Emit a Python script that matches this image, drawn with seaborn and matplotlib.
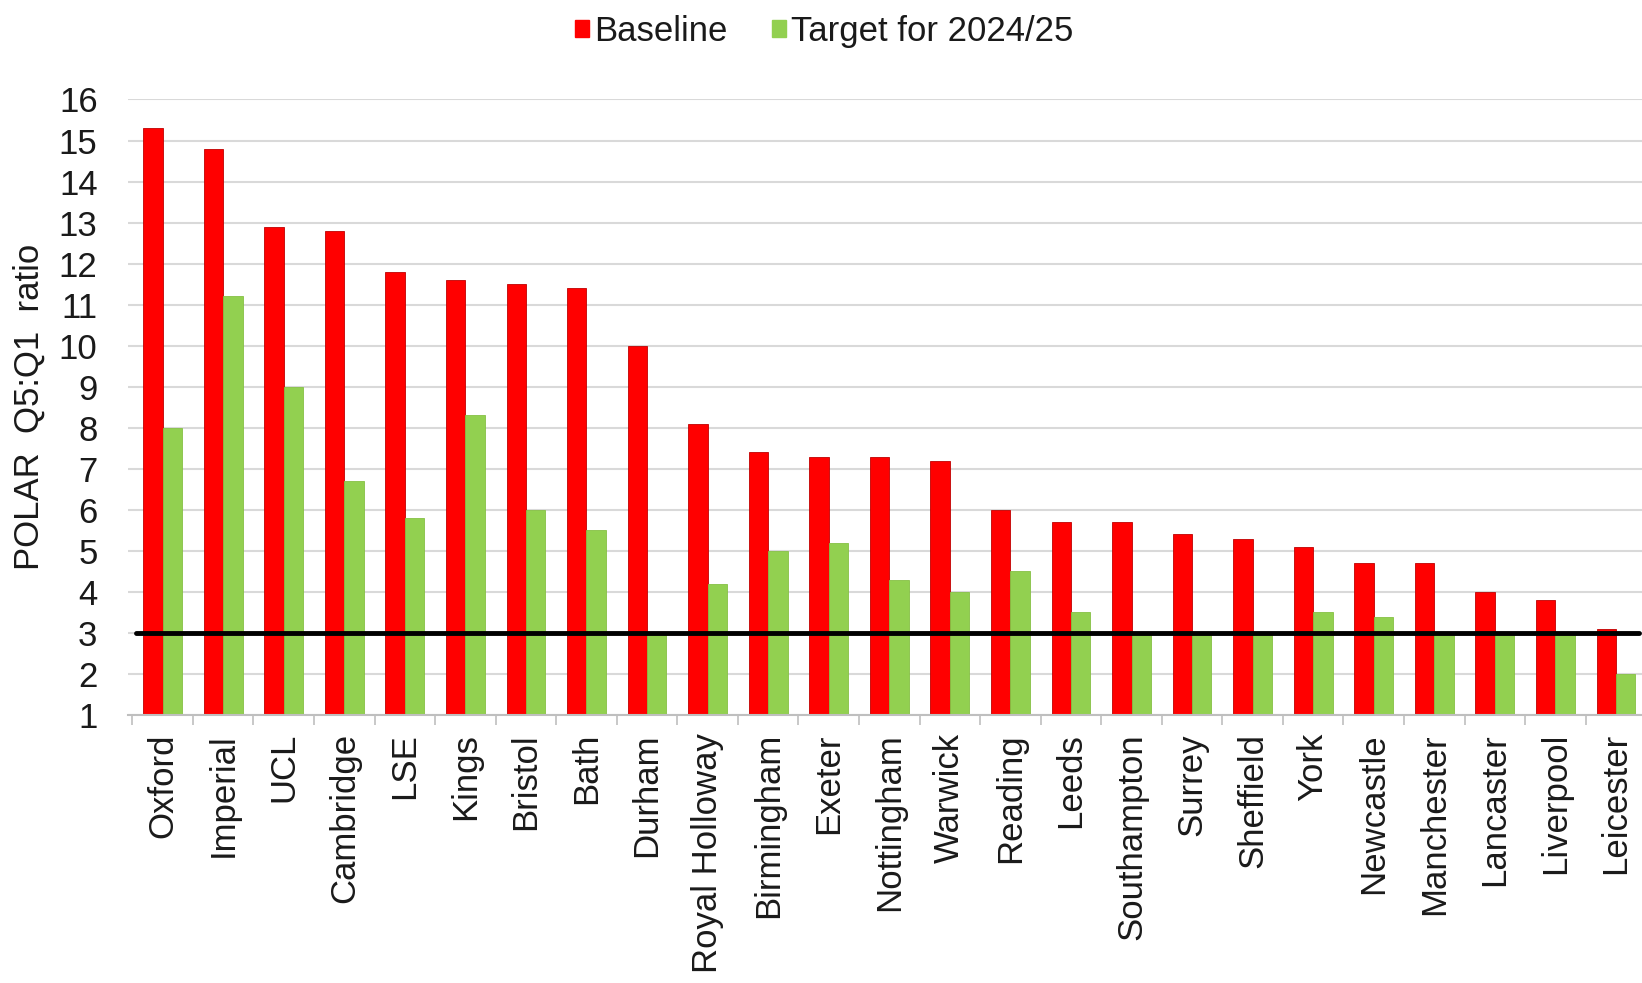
import matplotlib
matplotlib.use("Agg")
import matplotlib.pyplot as plt
from matplotlib.patches import Patch
from matplotlib.ticker import FixedLocator
import seaborn as sns
import pandas as pd

# Universities, in the order shown
universities = [
    "Oxford", "Imperial", "UCL", "Cambridge", "LSE", "Kings", "Bristol", "Bath",
    "Durham", "Royal Holloway", "Birmingham", "Exeter", "Nottingham", "Warwick",
    "Reading", "Leeds", "Southampton", "Surrey", "Sheffield", "York",
    "Newcastle", "Manchester", "Lancaster", "Liverpool", "Leicester",
]
baseline = [15.3, 14.8, 12.9, 12.8, 11.8, 11.6, 11.5, 11.4, 10.0, 8.1, 7.4, 7.3,
            7.3, 7.2, 6.0, 5.7, 5.7, 5.4, 5.3, 5.1, 4.7, 4.7, 4.0, 3.8, 3.1]
target = [8.0, 11.2, 9.0, 6.7, 5.8, 8.3, 6.0, 5.5, 3.0, 4.2, 5.0, 5.2,
          4.3, 4.0, 4.5, 3.5, 3.0, 3.0, 3.0, 3.5, 3.4, 3.0, 3.0, 3.0, 2.0]
series_names = ["Baseline", "Target for 2024/25"]
threshold = 3

df = pd.DataFrame({
    "University": universities * 2,
    "Ratio": baseline + target,
    "Series": [series_names[0]] * len(universities) + [series_names[1]] * len(universities),
})

sns.set_theme(style="white")
plt.rcParams["font.family"] = ["Liberation Sans", "DejaVu Sans"]

red = "#FF0000"
green = "#92D050"
text_col = "#1a1a1a"
fs = 25

fig = plt.figure(figsize=(16.42, 9.83), dpi=100)
ax = fig.add_axes([0.078, 0.2726, 0.922, 0.6262])

sns.barplot(data=df, x="University", y="Ratio", hue="Series",
            palette=[red, green], width=0.64, legend=False, ax=ax,
            saturation=1)

# thin darker outline like the original
for p in ax.patches:
    p.set_edgecolor("#c00000" if p.get_facecolor()[1] < 0.5 else "#86c044")
    p.set_linewidth(0.6)

ax.set_ylim(1, 16)
ax.set_xlim(-0.57, len(universities) - 1 + 0.43)
ax.set_yticks(range(1, 17))
ax.yaxis.grid(True, color="#d9d9d9", linewidth=1.5)
ax.set_axisbelow(True)

for s in ["top", "right", "left"]:
    ax.spines[s].set_visible(False)
ax.spines["bottom"].set_color("#bfbfbf")
ax.spines["bottom"].set_linewidth(1.5)

ax.axhline(threshold, xmin=0.005, xmax=0.998, color="black", linewidth=3.5)

ax.tick_params(axis="x", which="major", length=0, pad=13, labelsize=fs,
               labelcolor=text_col, rotation=90)
ax.xaxis.set_minor_locator(FixedLocator([k - 0.5 for k in range(len(universities) + 1)]))
ax.tick_params(axis="x", which="minor", bottom=True, length=7, color="#bfbfbf", width=1.2)
ax.tick_params(axis="y", length=0, pad=22, labelsize=fs, labelcolor=text_col)

ax.set_xlabel("")
ax.set_ylabel("POLAR  Q5:Q1  ratio", fontsize=fs, color=text_col, va="center")
ax.yaxis.set_label_coords(-0.0654, 0.5)

handles = [Patch(facecolor=red, edgecolor=red), Patch(facecolor=green, edgecolor=green)]
fig.legend(handles, series_names, loc="center", bbox_to_anchor=(0.502, 0.968),
           ncol=2, frameon=False, fontsize=fs, handlelength=0.4, handleheight=0.4,
           handletextpad=0.15, columnspacing=1.3, labelcolor=text_col)

fig.savefig("out.png", dpi=100)
